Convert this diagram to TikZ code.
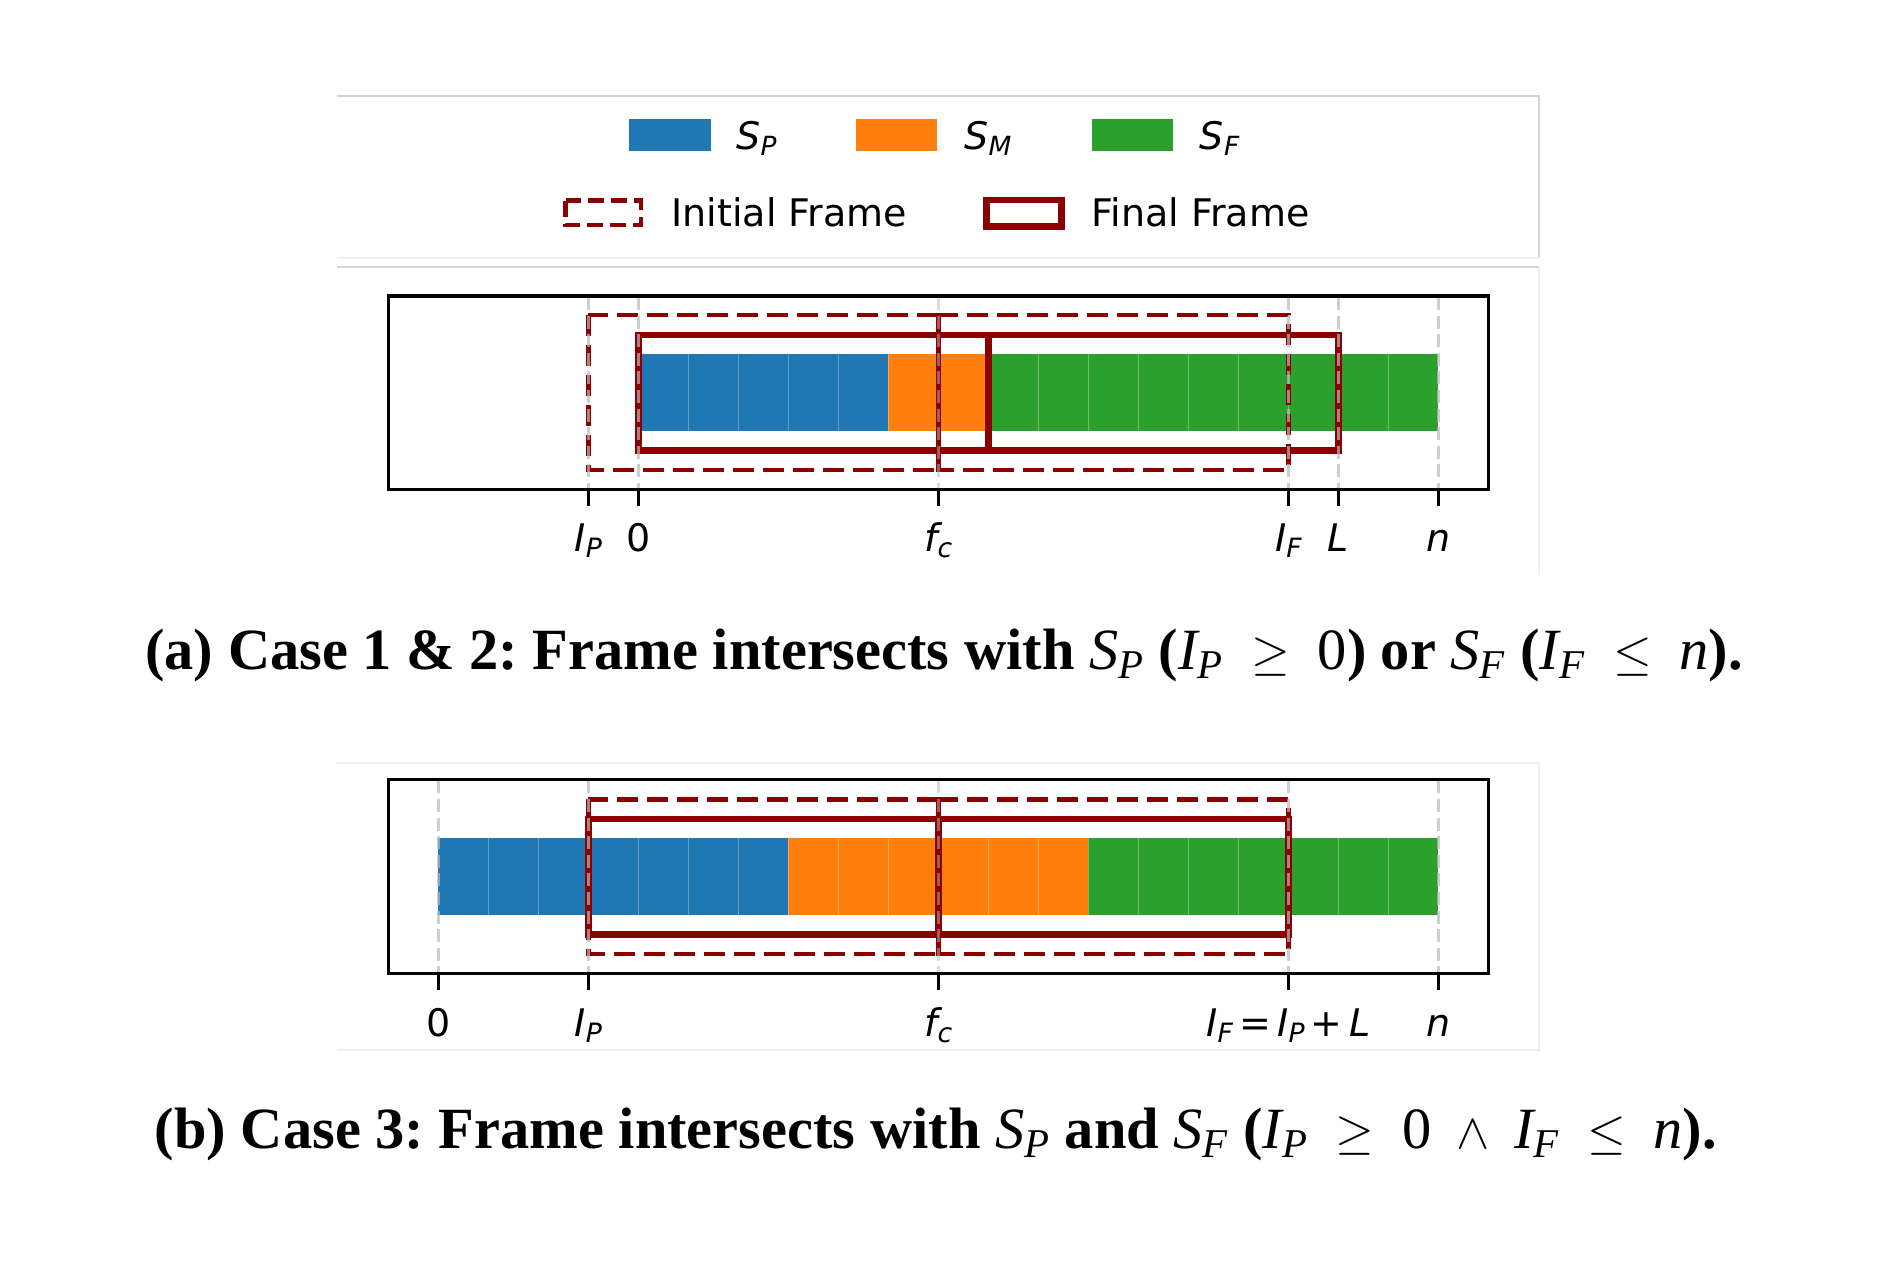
\documentclass[tikz,border=0pt]{standalone}
\usepackage{amsmath}
\usepackage{fontspec}
\setmainfont{Liberation Serif}
\newfontfamily\mpl{DejaVu Sans}
\definecolor{cP}{HTML}{1F77B4}
\definecolor{cM}{HTML}{FF7F0E}
\definecolor{cF}{HTML}{2CA02C}
\definecolor{fr}{HTML}{8B0000}
\definecolor{grd}{RGB}{185,185,185}
\definecolor{brd}{RGB}{212,212,212}
\definecolor{brdl}{RGB}{238,238,238}
\newcommand\lsub[1]{\raisebox{-0.16em}{\fontsize{13.3}{13.3}\selectfont\itshape #1}}
\newcommand\gsub[1]{\raisebox{-0.16em}{\fontsize{13.2}{13.2}\selectfont\itshape #1}}
\newcommand\cv[1]{\text{\normalfont\itshape #1}}
\newcommand\cn[1]{\text{\normalfont #1}}
\begin{document}
\frenchspacing
\begin{tikzpicture}[x=0.5pt,y=-0.5pt,
  spine/.style={draw=black,line width=1.65pt},
  tickmark/.style={draw=black,line width=1.75pt},
  gridline/.style={draw=grd,line width=1.6pt,opacity=0.7,dash pattern=on 6.5pt off 2.8pt},
  initframe/.style={draw=fr,line width=2.4pt,dash pattern=on 10.5pt off 4.5pt},
  finalframe/.style={draw=fr,line width=3.4pt},
  cellsep/.style={draw=white,line width=0.6pt,opacity=0.3},
  ticklbl/.style={inner sep=0pt,anchor=base,font=\mpl\fontsize{19}{19}\selectfont},
  leglbl/.style={inner sep=0pt,anchor=base west,font=\mpl\fontsize{19}{19}\selectfont},
  caption/.style={inner sep=0pt,anchor=base,font=\fontsize{29.2}{29.2}\selectfont\bfseries},
  imgborder/.style={draw=brd,line width=0.9pt},
  imgborderl/.style={draw=brdl,line width=0.9pt}]
\useasboundingbox (0,0) rectangle (1891,1260);

% ---------- image borders ----------
\draw[imgborder] (336.7,96) -- (1539,96) -- (1539,258.3);
\draw[imgborderl] (336.7,258.3) -- (1539,258.3);
\draw[imgborder] (336.7,267.3) -- (1539,267.3);
\draw[imgborderl] (1539,267.3) -- (1539,575);
\draw[imgborderl] (336.7,763) -- (1539,763) -- (1539,1050) -- (336.7,1050);

% ---------- legend ----------
\fill[cP] (629.3,119.3) rectangle (711,151.3);
\node[leglbl] (lgP) at (736,149.3) {{\itshape S}\gsub{P}};
\fill[cM] (856,119.3) rectangle (937,151.3);
\node[leglbl] (lgM) at (964,149.3) {{\itshape S}\gsub{M}};
\fill[cF] (1091.7,119.3) rectangle (1173.3,151.3);
\node[leglbl] (lgF) at (1199.5,149.3) {{\itshape S}\gsub{F}};
\draw[initframe,line width=2.2pt,dash pattern=on 8pt off 3.5pt] (565.6,200.6) rectangle (641,225);
\node[leglbl] (lgI) at (671,226.7) {Initial Frame};
\draw[finalframe] (986.6,200) rectangle (1061.7,226.7);
\node[leglbl] (lgFF) at (1091,226.7) {Final Frame};

% ---------- panel (a) ----------
\fill[cP] (638.3,354) rectangle (888.3,431);
\fill[cM] (888.3,354) rectangle (988.3,431);
\fill[cF] (988.3,354) rectangle (1438.3,431);
\foreach \i in {1,...,15} {\draw[cellsep] (638.3+50*\i,354) -- (638.3+50*\i,431);}
\draw[initframe] (588.3,315) rectangle (938.3,470);
\draw[initframe] (938.3,315) rectangle (1288.3,470);
\draw[finalframe] (638.3,335) rectangle (988.3,450.7);
\draw[finalframe] (988.3,335) rectangle (1338.3,450.7);
\foreach \x in {588.3,638.3,1288.3,1338.3,1438.3} {\draw[gridline] (\x,297) -- (\x,488.5);}
\draw[gridline,opacity=0.5] (938.3,297) -- (938.3,488.5);
\draw[spine] (388.3,296) rectangle (1488.3,489.3);
\foreach \x in {588.3,638.3,938.3,1288.3,1338.3,1438.3} {\draw[tickmark] (\x,489.3) -- (\x,505.7);}
\node[ticklbl] (aIP) at (588.3,551.7) {{\itshape I}\lsub{P}};
\node[ticklbl] (a0) at (638.3,551.7) {0};
\node[ticklbl] (afc) at (938.3,551.7) {{\itshape f}\lsub{c}};
\node[ticklbl] (aIF) at (1288.3,551.7) {{\itshape I}\lsub{F}};
\node[ticklbl] (aL) at (1338.3,551.7) {{\itshape L}};
\node[ticklbl] (an) at (1438.3,551.7) {{\itshape n}};

\node[caption] (capa) at (944,669.3) {(a) Case 1 \& 2: Frame intersects with $\cv{S}_{\cv{P}}$ ($\cv{I}_{\cv{P}}\;\geq\;\cn{0}$) or $\cv{S}_{\cv{F}}$ ($\cv{I}_{\cv{F}}\;\leq\;\cv{n}$).};

% ---------- panel (b) ----------
\fill[cP] (438.3,838.3) rectangle (788.3,915.3);
\fill[cM] (788.3,838.3) rectangle (1088.3,915.3);
\fill[cF] (1088.3,838.3) rectangle (1438.3,915.3);
\foreach \i in {1,...,19} {\draw[cellsep] (438.3+50*\i,838.3) -- (438.3+50*\i,915.3);}
\draw[initframe] (588.3,799.3) rectangle (938.3,954);
\draw[initframe] (938.3,799.3) rectangle (1288.3,954);
\draw[finalframe] (588.3,819) rectangle (938.3,934.3);
\draw[finalframe] (938.3,819) rectangle (1288.3,934.3);
\foreach \x in {438.3,588.3,1288.3,1438.3} {\draw[gridline] (\x,780.3) -- (\x,972.5);}
\draw[gridline,opacity=0.5] (938.3,780.3) -- (938.3,972.5);
\draw[spine] (388.3,779.3) rectangle (1488.3,973.3);
\foreach \x in {438.3,588.3,938.3,1288.3,1438.3} {\draw[tickmark] (\x,973.3) -- (\x,990);}
\node[ticklbl] (b0) at (438.3,1036) {0};
\node[ticklbl] (bIP) at (588.3,1036) {{\itshape I}\lsub{P}};
\node[ticklbl] (bfc) at (938.3,1036) {{\itshape f}\lsub{c}};
\node[ticklbl] (bIF) at (1288.3,1036) {{\itshape I}\lsub{F}\,=\,{\itshape I}\lsub{P}\,+\,{\itshape L}};
\node[ticklbl] (bn) at (1438.3,1036) {{\itshape n}};

\node[caption] (capb) at (936,1148.3) {(b) Case 3: Frame intersects with $\cv{S}_{\cv{P}}$ and $\cv{S}_{\cv{F}}$ ($\cv{I}_{\cv{P}}\;\geq\;\cn{0}\;\wedge\;\cv{I}_{\cv{F}}\;\leq\;\cv{n}$).};
\end{tikzpicture}
\end{document}
